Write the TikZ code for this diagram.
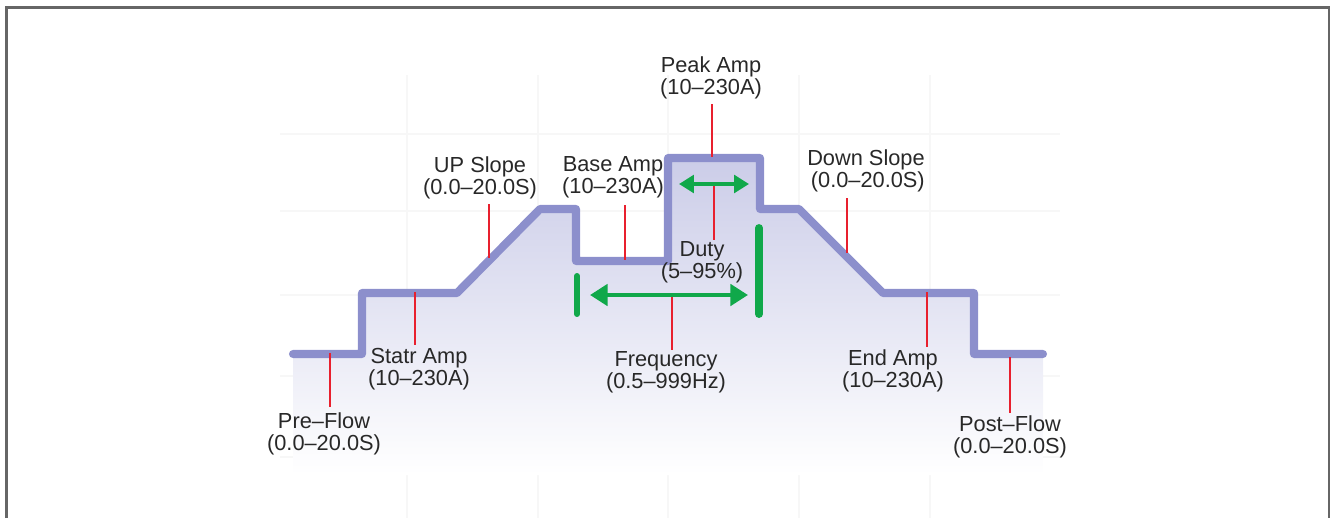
\documentclass[tikz,border=0pt]{standalone}
\usepackage{fontspec}
\setmainfont{Liberation Sans}
\usetikzlibrary{arrows.meta}
\definecolor{wavecol}{RGB}{140,143,204}
\definecolor{leadcol}{RGB}{232,32,46}
\definecolor{pulsecol}{RGB}{16,168,74}
\definecolor{txtcol}{RGB}{40,40,40}
\tikzset{
  frame/.style={draw=black!60, line width=1.3pt},
  grid line/.style={draw=black!3, line width=0.6pt},
  wave/.style={draw=wavecol, line width=4.6pt, line join=round, line cap=round},
  lead/.style={draw=leadcol, line width=1.1pt},
  bar/.style={draw=pulsecol, line cap=round},
  span/.style={draw=pulsecol, line width=2.8pt,
    {Triangle[length=10pt,width=12pt]}-{Triangle[length=10pt,width=12pt]}},
  tag/.style={align=center, inner sep=0pt, text=txtcol,
    font=\fontsize{12.4}{12.6}\selectfont}
}

\begin{document}
\begin{tikzpicture}[x=0.02cm, y=-0.02cm]
    \useasboundingbox (0,0) rectangle (1330,518);
    \draw[frame] (6.5,518) -- (6.5,7.5) -- (1329,7.5) -- (1329,518);

    % faint grid behind the curve
    \foreach \gx in {407,538,668,799,930}
      \draw[grid line] (\gx,75) -- (\gx,518);
    \foreach \gy in {134,211,295,376,457}
      \draw[grid line] (280,\gy) -- (1060,\gy);

    \shade[top color=wavecol!45, bottom color=white]
      (293,354) -- (362,354) -- (362,293) -- (457,293) -- (540,209) -- (576,209)
      -- (576,261) -- (668,261) -- (668,158) -- (760,158) -- (760,209) -- (799,209)
      -- (883,293) -- (974,293) -- (974,354) -- (1043,354) -- (1043,475) -- (293,475) -- cycle;

    \draw[wave] (293,354) -- (362,354) -- (362,293) -- (457,293) -- (540,209) -- (576,209)
      -- (576,261) -- (668,261) -- (668,158) -- (760,158) -- (760,209) -- (799,209)
      -- (883,293) -- (974,293) -- (974,354) -- (1043,354);

    % labels
    \node[tag] (peak)  at (711,78)  {Peak Amp\\(10–230A)};
    \node[tag] (upsl)  at (480,178) {UP Slope\\(0.0–20.0S)};
    \node[tag] (base)  at (613,177) {Base Amp\\(10–230A)};
    \node[tag] (dnsl)  at (866,171) {Down Slope\\\,(0.0–20.0S)};
    \node[tag] (duty)  at (702,262) {Duty\\(5–95\%)};
    \node[tag] (start) at (419,369) {Statr Amp\\(10–230A)};
    \node[tag] (freq)  at (666,372) {Frequency\\(0.5–999Hz)};
    \node[tag] (endA)  at (893,371) {End Amp\\(10–230A)};
    \node[tag] (pre)   at (324,434) {Pre–Flow\\(0.0–20.0S)};
    \node[tag] (post)  at (1010,437) {Post–Flow\\(0.0–20.0S)};

    % leader ends
    \coordinate (peak-a) at (712,104);  \coordinate (peak-b) at (712,157);
    \coordinate (upsl-a) at (489,204);  \coordinate (upsl-b) at (489,258);
    \coordinate (base-a) at (625,205);  \coordinate (base-b) at (625,260);
    \coordinate (dnsl-a) at (847,198);  \coordinate (dnsl-b) at (847,253);
    \coordinate (duty-a) at (714,184);  \coordinate (duty-b) at (714,240);
    \coordinate (start-a) at (415,292); \coordinate (start-b) at (415,345);
    \coordinate (freq-a) at (672,295);  \coordinate (freq-b) at (672,350);
    \coordinate (endA-a) at (927,292);  \coordinate (endA-b) at (927,347);
    \coordinate (pre-a) at (330,353);   \coordinate (pre-b) at (330,407);
    \coordinate (post-a) at (1010,357); \coordinate (post-b) at (1010,413);

    \draw[lead] (peak-a) -- (peak-b);
    \draw[lead] (upsl-a) -- (upsl-b);
    \draw[lead] (base-a) -- (base-b);
    \draw[lead] (dnsl-a) -- (dnsl-b);
    \draw[lead] (duty-a) -- (duty-b);
    \draw[lead] (start-a) -- (start-b);
    \draw[lead] (freq-a) -- (freq-b);
    \draw[lead] (endA-a) -- (endA-b);
    \draw[lead] (pre-a) -- (pre-b);
    \draw[lead] (post-a) -- (post-b);

    % duty and period markers
    \coordinate (duty-l) at (679,184);  \coordinate (duty-r) at (749,184);
    \coordinate (freq-l) at (590,295);  \coordinate (freq-r) at (748,295);
    \coordinate (barL-t) at (577,276);  \coordinate (barL-b) at (577,314);
    \coordinate (barR-t) at (759,228);  \coordinate (barR-b) at (759,314);

    \draw[span, line width=2.4pt,
      {Triangle[length=8.5pt,width=10pt]}-{Triangle[length=8.5pt,width=10pt]}] (duty-l) -- (duty-r);
    \draw[span] (freq-l) -- (freq-r);
    \draw[bar, line width=3.4pt] (barL-t) -- (barL-b);
    \draw[bar, line width=4.5pt] (barR-t) -- (barR-b);

  \end{tikzpicture}
\end{document}
